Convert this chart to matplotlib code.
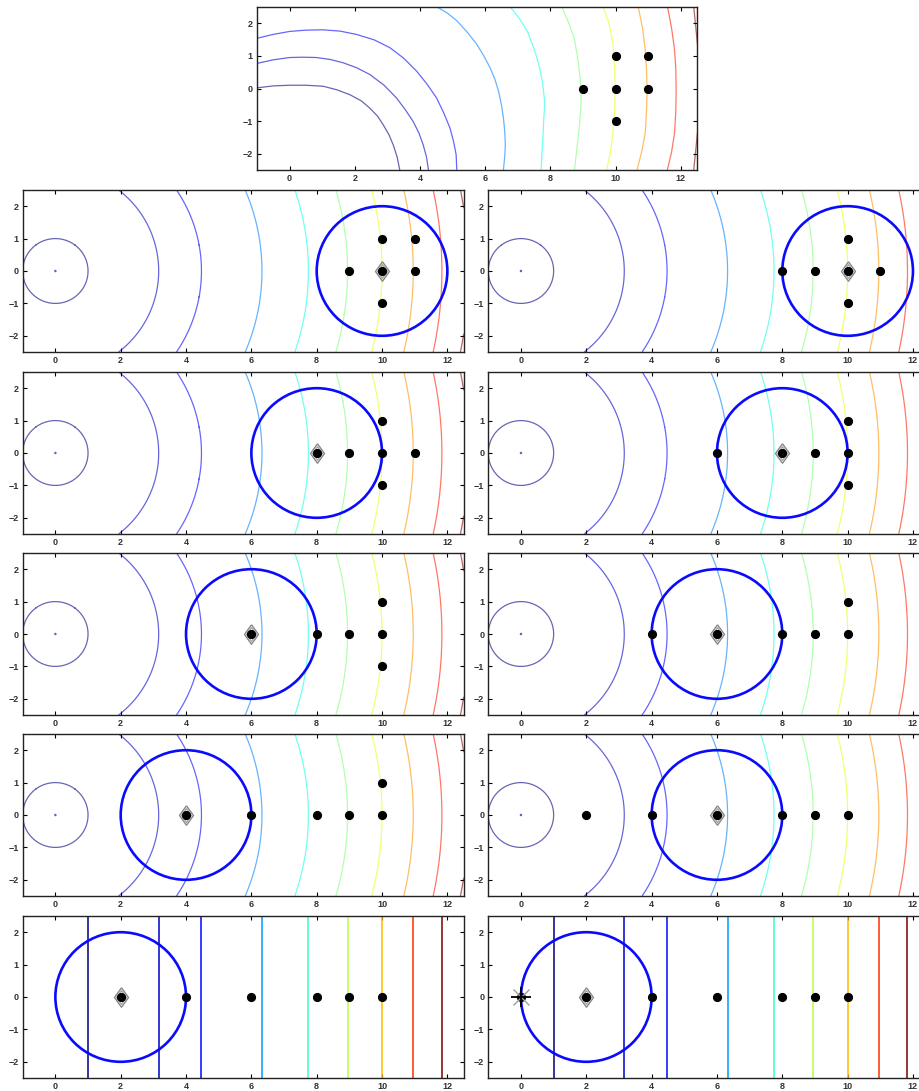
import numpy as np
import matplotlib.pyplot as plt
from matplotlib.patches import Circle
from matplotlib.colors import Normalize

plt.rcParams['font.family'] = ['Liberation Sans', 'DejaVu Sans']

W, H = 920, 1091

x_range = (-1, 12.5)
y_range = (-2.5, 2.5)
x_ticks = [0, 2, 4, 6, 8, 10, 12]
y_ticks = [-2, -1, 0, 1, 2]

# contour levels of the objective x^2 + y^2 (first one marks the minimum)
levels = [0.0004, 1, 10, 20, 40, 60, 80, 100, 120, 140, 160]
# levels of the 1-D objective x^2 used in the last row
levels_1d = [1, 10, 20, 40, 60, 80, 100, 120, 140]

# surrogate model contours of the top panel
model_levels = [1, 10, 20, 40, 60, 80, 100, 120, 140, 160]
model_x = [
    [-1.0, -0.5, 0.0, 0.5, 1.03, 1.45, 1.85, 2.20, 2.46, 2.70, 2.87, 3.05, 3.18, 3.30, 3.38],
    [-1.0, -0.5, 0.0, 0.40, 0.82, 1.25, 1.64, 2.05, 2.46, 2.90, 3.28, 3.55, 3.79, 3.97, 4.10, 4.20, 4.26],
    [-1.0, -0.5, 0.0, 0.5, 1.03, 1.55, 2.05, 2.60, 3.08, 3.50, 3.90, 4.22, 4.51, 4.73, 4.92, 5.03, 5.11, 5.13],
    [4.51, 4.83, 5.13, 5.45, 5.74, 5.96, 6.15, 6.30, 6.41, 6.50, 6.56, 6.60, 6.62, 6.60, 6.56],
    [6.74, 7.05, 7.31, 7.50, 7.66, 7.76, 7.82, 7.82, 7.80, 7.77, 7.74, 7.72],
    [8.33, 8.55, 8.74, 8.86, 8.94, 8.94, 8.92, 8.89, 8.82, 8.74],
    [9.61, 9.80, 9.92, 9.97, 9.99, 9.97, 9.92, 9.84, 9.73],
    [10.69, 10.83, 10.91, 10.95, 10.97, 10.95, 10.91, 10.80, 10.66],
    [11.59, 11.72, 11.81, 11.85, 11.86, 11.85, 11.81, 11.72, 11.59],
    [12.40, 12.65, 12.40],
]
model_y = [
    [0.02, 0.08, 0.10, 0.10, 0.07, -0.04, -0.19, -0.38, -0.60, -0.85, -1.11, -1.42, -1.73, -2.10, -2.5],
    [0.77, 0.88, 0.95, 0.96, 0.95, 0.89, 0.79, 0.64, 0.43, 0.10, -0.29, -0.65, -1.01, -1.37, -1.73, -2.10, -2.5],
    [1.54, 1.66, 1.75, 1.79, 1.80, 1.76, 1.66, 1.49, 1.25, 0.93, 0.53, 0.13, -0.29, -0.75, -1.21, -1.62, -2.03, -2.5],
    [2.51, 2.32, 2.08, 1.73, 1.36, 1.00, 0.64, 0.28, -0.08, -0.50, -0.90, -1.30, -1.73, -2.10, -2.5],
    [2.54, 2.15, 1.72, 1.22, 0.69, 0.18, -0.34, -0.62, -0.90, -1.57, -2.05, -2.5],
    [2.54, 2.05, 1.51, 0.80, 0.07, -0.50, -0.80, -1.16, -1.80, -2.5],
    [2.54, 2.00, 1.41, 0.70, -0.03, -0.70, -1.37, -1.95, -2.5],
    [2.54, 1.85, 1.20, 0.60, -0.03, -0.70, -1.37, -1.95, -2.5],
    [2.54, 1.85, 1.20, 0.60, -0.03, -0.70, -1.37, -1.95, -2.5],
    [2.5, 0.0, -2.5],
]

top_samples_x = [9, 10, 10, 10, 11, 11]
top_samples_y = [0, 1, 0, -1, 1, 0]

# trust region centre and sample points of each iteration, row by row
radius = 2
centers_x = [10, 10, 8, 8, 6, 6, 4, 6, 2, 2]
centers_y = [0, 0, 0, 0, 0, 0, 0, 0, 0, 0]
samples_x = [
    [9, 10, 10, 10, 11, 11],
    [8, 9, 10, 10, 10, 11],
    [8, 9, 10, 10, 10, 11],
    [6, 8, 9, 10, 10, 10],
    [6, 8, 9, 10, 10, 10],
    [4, 6, 8, 9, 10, 10],
    [4, 6, 8, 9, 10, 10],
    [2, 4, 6, 8, 9, 10],
    [2, 4, 6, 8, 9, 10],
    [0, 2, 4, 6, 8, 9, 10],
]
samples_y = [
    [0, 1, 0, -1, 1, 0],
    [0, 0, 0, 1, -1, 0],
    [0, 0, 0, 1, -1, 0],
    [0, 0, 0, 0, 1, -1],
    [0, 0, 0, 0, 1, -1],
    [0, 0, 0, 0, 0, 1],
    [0, 0, 0, 0, 0, 1],
    [0, 0, 0, 0, 0, 0],
    [0, 0, 0, 0, 0, 0],
    [0, 0, 0, 0, 0, 0, 0],
]
# new trial point in the last iteration
trial_x, trial_y = 0, 0

# a wider diamond, like MATLAB's 'd'
diamond = [(0, 1), (0.72, 0), (0, -1), (-0.72, 0), (0, 1)]


def add_px_axes(fig, left, top, right, bottom):
    return fig.add_axes([left / W, 1 - bottom / H, (right - left) / W, (bottom - top) / H])


def style(ax):
    ax.set_xlim(x_range)
    ax.set_ylim(y_range)
    ax.set_xticks(x_ticks)
    ax.set_yticks(y_ticks)
    ax.tick_params(direction='in', length=3, width=0.8, top=True, right=True,
                   labelsize=6.5, pad=3, labelcolor='#333333')
    for lab in ax.get_xticklabels() + ax.get_yticklabels():
        lab.set_fontweight('bold')
    for s in ax.spines.values():
        s.set_linewidth(1.0)
        s.set_color('#222222')


def draw_samples(ax, xs, ys):
    ax.plot(xs, ys, 'o', color='black', markersize=5.6, zorder=5)


fig = plt.figure(figsize=(W / 100, H / 100), dpi=100)

gx = np.linspace(x_range[0], x_range[1], 1351)
gy = np.linspace(y_range[0], y_range[1], 501)
X, Y = np.meshgrid(gx, gy)
Z2 = X ** 2 + Y ** 2
Z1 = X ** 2 + 0 * Y

norm = Normalize(vmin=0, vmax=160)
cmap = plt.get_cmap('jet')

# top panel: surrogate model
ax = add_px_axes(fig, 257, 7, 697, 170)
for lev, xs, ys in zip(model_levels, model_x, model_y):
    ax.plot(xs, ys, color=cmap(norm(lev)), lw=0.9, alpha=0.6)
draw_samples(ax, top_samples_x, top_samples_y)
style(ax)

row_tops = [190, 372, 553, 734, 916]
col_lefts = [22.7, 488.3]
pw, ph = 441, 162

for i in range(10):
    r, c = divmod(i, 2)
    left = col_lefts[c]
    top = row_tops[r]
    ax = add_px_axes(fig, left, top, left + pw, top + ph)
    if r < 4:
        ax.contour(X, Y, Z2, levels=levels, cmap='jet', norm=norm,
                   linewidths=0.9, alpha=0.6)
    else:
        ax.contour(X, Y, Z1, levels=levels_1d, cmap='jet',
                   norm=Normalize(vmin=1, vmax=140), linewidths=1.3, alpha=0.85)
    ax.add_patch(Circle((centers_x[i], centers_y[i]), radius, fill=False,
                        edgecolor='#0a0aff', lw=1.9, zorder=4))
    ax.plot(centers_x[i], centers_y[i], marker=diamond, ms=14, mfc='none',
            mec='#888888', mew=1.0, zorder=4)
    ax.plot(centers_x[i], centers_y[i], marker=diamond, ms=10, mfc='none',
            mec='#a0a0a0', mew=0.8, zorder=4)
    draw_samples(ax, samples_x[i], samples_y[i])
    if i == 9:
        ax.plot(trial_x, trial_y, 'x', ms=12, color='#a0a0a0', mew=1.0, zorder=6)
        ax.plot(trial_x, trial_y, '+', ms=15, color='black', mew=1.3, zorder=6)
    style(ax)

fig.savefig('out.png', dpi=100)
